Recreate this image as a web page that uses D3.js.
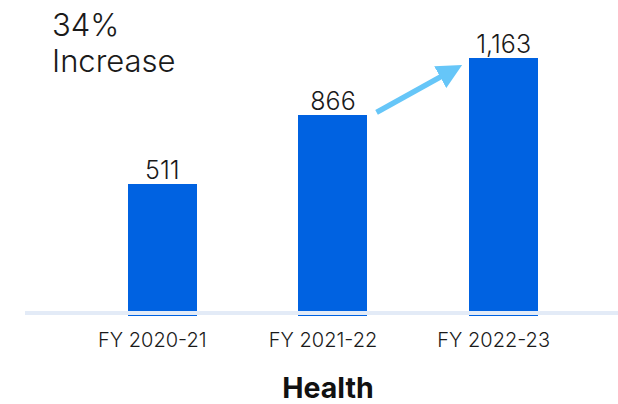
<!DOCTYPE html>
<html>
<head>
<meta charset="utf-8">
<script src="https://cdn.jsdelivr.net/npm/d3@7"></script>
<style>
  html, body { margin: 0; padding: 0; background: #fff; }
  svg { display: block; font-family: Inter, "Noto Sans", sans-serif; }
</style>
</head>
<body>
<svg id="chart" width="618" height="404"></svg>
<script>
// Health – yearly counts
const categories = ["FY 2020-21", "FY 2021-22", "FY 2022-23"];
const values = [511, 866, 1163];
const valueLabels = ["511", "866", "1,163"];
const headline = ["34%", "Increase"];
const title = "Health";

const width = 618, height = 404;
const baseline = 311;
// bars in the source are not strictly proportional; a shifted domain fits them best
const yMin = -144;

const svg = d3.select("#chart");

const x = d3.scaleBand()
  .domain(categories)
  .range([77, 589])
  .paddingInner(0.595)
  .paddingOuter(0.2975);

const y = d3.scaleLinear()
  .domain([yMin, d3.max(values)])
  .range([baseline, 58]);

// bars (run slightly under the axis band like the original)
svg.append("g")
  .attr("shape-rendering", "crispEdges")
  .selectAll("rect")
  .data(values)
  .join("rect")
  .attr("x", (d, i) => Math.round(x(categories[i])))
  .attr("y", d => Math.round(y(d)))
  .attr("width", Math.round(x.bandwidth()))
  .attr("height", d => Math.round(y(yMin)) - Math.round(y(d)) + 5)
  .attr("fill", "#0062e1");

// axis band
svg.append("rect")
  .attr("x", 25)
  .attr("y", baseline)
  .attr("width", width - 25)
  .attr("height", 4)
  .attr("fill", "#e3ebf7");

// value labels
svg.append("g")
  .selectAll("text")
  .data(values)
  .join("text")
  .attr("x", (d, i) => x(categories[i]) + x.bandwidth() / 2)
  .attr("y", d => y(d) - 5)
  .attr("text-anchor", "middle")
  .attr("fill", "#1a1a1a")
  .style("font-size", "25px")
  .style("font-weight", 300)
  .text((d, i) => valueLabels[i]);

// category axis labels
const xAxis = svg.append("g")
  .attr("transform", `translate(0,${baseline})`)
  .call(d3.axisBottom(x).tickSize(0).tickPadding(0));
xAxis.select(".domain").remove();
xAxis.selectAll("text")
  .attr("dx", -10)
  .attr("y", 36)
  .attr("dy", 0)
  .attr("fill", "#1a1a1a")
  .style("font-family", "Inter, 'Noto Sans', sans-serif")
  .style("font-size", "20px")
  .style("font-weight", 300);

// title
svg.append("text")
  .attr("x", 328)
  .attr("y", 398)
  .attr("text-anchor", "middle")
  .attr("fill", "#111")
  .style("font-size", "28.5px")
  .style("font-weight", 700)
  .text(title);

// headline
svg.append("g")
  .selectAll("text")
  .data(headline)
  .join("text")
  .attr("x", 52)
  .attr("y", (d, i) => 36 + i * 36)
  .attr("fill", "#1a1a1a")
  .style("font-size", "31px")
  .style("font-weight", 300)
  .text(d => d);

// growth arrow pointing at the top-left corner of the last bar
const arrowColor = "#66c6f8";
const stroke = 5.5;
const headLen = 25;
svg.append("defs").append("marker")
  .attr("id", "head")
  .attr("viewBox", "0 0 10 10")
  .attr("refX", 2).attr("refY", 5)
  .attr("markerWidth", headLen / stroke).attr("markerHeight", 27 / stroke)
  .attr("markerUnits", "strokeWidth")
  .attr("orient", "auto")
  .append("path")
  .attr("d", "M0,0 L10,5 L0,10 Z")
  .attr("fill", arrowColor);

const tipX = x(categories[2]) - 7;
const tipY = y(values[2]) + 7;
const startX = x(categories[1]) + x.bandwidth() + 9;
const startY = tipY + (tipX - startX) * 0.553;
const len = Math.hypot(tipX - startX, tipY - startY);
const back = headLen * 0.8;
svg.append("line")
  .attr("x1", startX)
  .attr("y1", startY)
  .attr("x2", tipX - (tipX - startX) / len * back)
  .attr("y2", tipY - (tipY - startY) / len * back)
  .attr("stroke", arrowColor)
  .attr("stroke-width", stroke)
  .attr("marker-end", "url(#head)");
</script>
</body>
</html>
